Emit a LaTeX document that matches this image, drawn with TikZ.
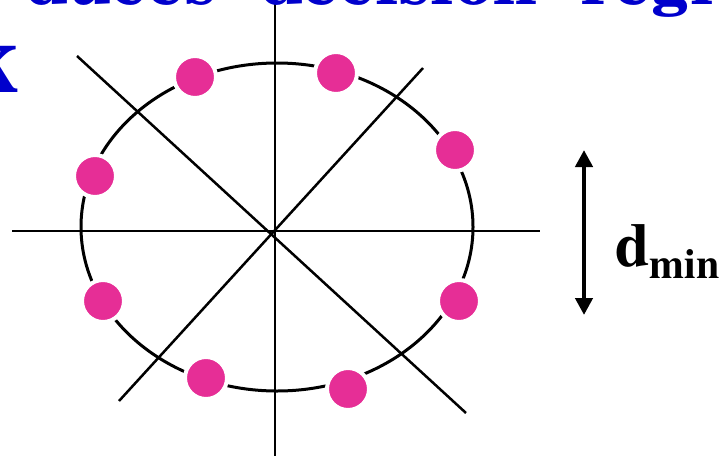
\documentclass[tikz,border=0pt]{standalone}
\usepackage[T1]{fontenc}
\usepackage{tikz}
\usetikzlibrary{arrows.meta,positioning}
\definecolor{DotPink}{HTML}{E62E96}
\definecolor{SlideBlue}{HTML}{0000CC}
\tikzset{
  dot/.style={circle,fill=DotPink,draw=white,line width=4pt,minimum size=42pt,inner sep=0pt},
  axis/.style={black,line width=2.5pt},
  ring/.style={black,line width=3pt},
  slidetext/.style={inner sep=0pt,text=SlideBlue,font=\fontfamily{pnc}\fontseries{b}\fontsize{64}{70}\selectfont},
}

\begin{document}
\begin{tikzpicture}[x=1pt,y=-1pt]
  \useasboundingbox (0,0) rectangle (719,458);
  \clip (0,0) rectangle (719,458);
  % decision boundaries
  \coordinate (o) at (275,231);
  \coordinate (hl) at (12,231);   \coordinate (hr) at (540,231);
  \coordinate (vt) at (275,3);    \coordinate (vb) at (275,456);
  \coordinate (d1a) at (77,56);   \coordinate (d1b) at (466,413);
  \coordinate (d2a) at (119,401); \coordinate (d2b) at (423,68);
  \draw[ring] (277,227) ellipse [x radius=196,y radius=164];
  \draw[axis] (hl) -- (hr);
  \draw[axis] (vt) -- (vb);
  \draw[axis] (d1a) -- (d1b);
  \draw[axis] (d2a) -- (d2b);
  % 8 signal points
  \foreach \n/\x/\y in {1/195/77,2/336/73,3/455/150,4/459/301,5/348/389,6/206/378,7/103/301,8/95/176} {
    \node[dot] (p\n) at (\x,\y) {};
  }
  % slide text
  \node[slidetext,anchor=base west] (title) at (25,4) {\spaceskip=44pt duces decision regi};
  \node[slidetext,anchor=base east] (titleK) at (18,92) {K};
  % distance marker
  \coordinate (dtop) at (584,150);
  \coordinate (dbot) at (584,315);
  \draw[line width=4.5pt,{Triangle[length=17pt,width=17pt]}-{Triangle[length=17pt,width=17pt]}] (dtop) -- (dbot);
  \node[anchor=base west,inner sep=0pt,font=\fontfamily{ptm}\bfseries\fontsize{62}{70}\selectfont] (dmin) at (615,266) {d\raisebox{-12pt}{\fontsize{42}{46}\selectfont min}};
\end{tikzpicture}
\end{document}
